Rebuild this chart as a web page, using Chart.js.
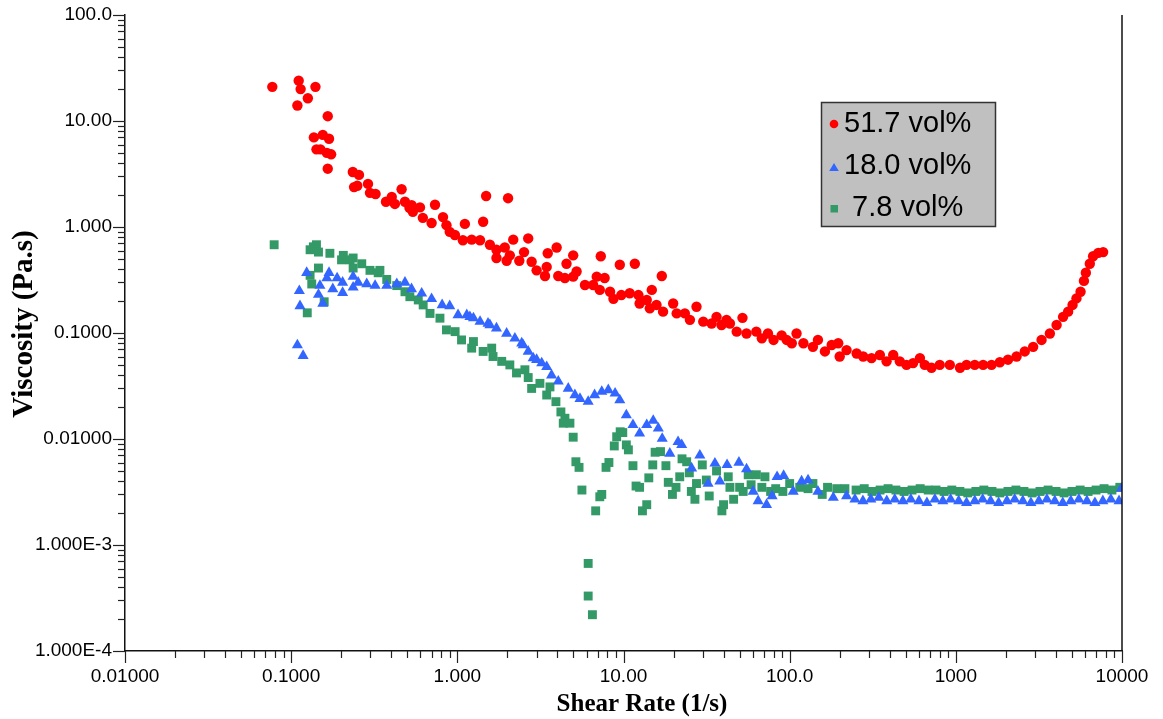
<!DOCTYPE html>
<html><head><meta charset="utf-8">
<script src="https://cdn.jsdelivr.net/npm/chart.js@4.4.1/dist/chart.umd.min.js"></script>
<style>html,body{margin:0;padding:0;background:#fff}#wrap{width:1163px;height:719px}</style>
</head><body><div id="wrap"><canvas id="c" width="1163" height="719"></canvas></div>
<script>
const xTickValues = [0.01, 0.1, 1, 10, 100, 1000, 10000];
const xTickLabels = ['0.01000', '0.1000', '1.000', '10.00', '100.0', '1000', '10000'];
const yTickValues = [0.0001, 0.001, 0.01, 0.1, 1, 10, 100];
const yTickLabels = ['1.000E-4', '1.000E-3', '0.01000', '0.1000', '1.000', '10.00', '100.0'];
const xTitle = 'Shear Rate (1/s)';
const yTitle = 'Viscosity (Pa.s)';
const seriesNames = ['51.7 vol%', '18.0 vol%', ' 7.8 vol%'];

const red517 = [
[0.077,21],[0.109,14],[0.111,24],[0.114,20],[0.126,16.4],[0.137,7.0],[0.140,21],[0.142,5.4],[0.150,5.4],[0.155,7.4],[0.164,5.0],[0.166,11.1],[0.166,3.55],[0.169,6.8],[0.174,4.85],
[0.235,3.3],[0.239,2.38],[0.250,2.45],[0.256,3.1],[0.290,2.55],[0.298,2.1],[0.322,2.05],[0.372,1.73],[0.403,1.92],[0.421,1.65],[0.462,2.27],[0.484,1.73],[0.515,1.52],[0.531,1.61],[0.54,1.39],[0.596,1.53],[0.62,1.22],[0.70,1.09],[0.734,1.62],[0.82,1.24],[0.86,1.04],[0.90,0.90],[0.967,0.84],
[1.08,0.75],[1.11,1.07],[1.22,0.76],[1.37,0.75],[1.43,1.12],[1.49,1.96],[1.57,0.68],[1.72,0.61],[1.72,0.51],[1.93,0.64],[1.98,0.48],[2.02,1.87],[2.07,0.54],[2.17,0.76],[2.36,0.48],[2.52,0.58],[2.67,0.78],[2.80,0.47],[3.0,0.39],[3.37,0.345],[3.45,0.42],[3.5,0.565],[3.96,0.64],[4.05,0.345],[4.44,0.33],[4.54,0.45],[4.98,0.54],[4.98,0.34],[5.22,0.38],[5.86,0.284],[6.57,0.284],[6.9,0.34],[7.2,0.255],[7.3,0.53],[7.7,0.33],[8.3,0.245],[8.7,0.21],[9.5,0.44],[9.7,0.228],
[10.9,0.237],[11.7,0.45],[12.3,0.228],[12.5,0.19],[13.8,0.205],[14.4,0.171],[14.8,0.255],[15.8,0.184],[17.0,0.345],[17.3,0.159],[19.9,0.19],[20.9,0.153],[23.4,0.153],[25.1,0.133],[27.5,0.177],[30.2,0.128],[33.9,0.123],[36.3,0.142],[38.9,0.119],[41.7,0.133],[43.7,0.123],[48,0.103],[52,0.139],[55,0.099],[63,0.103],[68,0.089],[74,0.099],[80,0.086],[89.5,0.095],[96,0.086],
[103,0.080],[110,0.099],[121,0.080],[138,0.074],[148,0.086],[163,0.067],[179,0.077],[196,0.080],[200,0.060],[220,0.069],[253,0.064],[277,0.060],[311,0.058],[349,0.062],[383,0.054],[420,0.062],[460,0.054],[505,0.050],[553,0.052],[608,0.058],[650,0.050],[714,0.047],[800,0.050],[920,0.050],
[1060,0.047],[1160,0.050],[1300,0.050],[1460,0.050],[1640,0.050],[1840,0.053],[2060,0.056],[2320,0.060],[2600,0.067],[2920,0.074],[3280,0.086],[3680,0.099],[4040,0.119],[4420,0.142],[4740,0.159],[5040,0.184],[5320,0.212],[5630,0.245],[5900,0.31],[6060,0.37],[6400,0.45],[6700,0.53],[7200,0.57],[7700,0.58]
];

const blue180 = [
[0.109,0.077],[0.112,0.25],[0.113,0.18],[0.118,0.061],[0.124,0.37],[0.146,0.23],[0.149,0.28],[0.155,0.19],[0.164,0.33],[0.169,0.37],[0.178,0.26],[0.189,0.33],[0.204,0.30],[0.204,0.24],[0.236,0.34],[0.236,0.27],[0.253,0.30],[0.285,0.29],[0.32,0.28],[0.376,0.28],[0.432,0.29],[0.484,0.30],[0.53,0.26],[0.61,0.237],[0.70,0.21],[0.81,0.184],[0.90,0.18],
[1.01,0.148],[1.14,0.148],[1.19,0.142],[1.25,0.138],[1.37,0.128],[1.53,0.123],[1.57,0.119],[1.72,0.111],[1.98,0.099],[2.22,0.089],[2.44,0.080],[2.49,0.077],[2.67,0.067],[2.86,0.058],[3.0,0.056],[3.22,0.052],[3.45,0.048],[3.69,0.040],[4.05,0.035],[4.65,0.030],[5.1,0.026],[5.47,0.024],[6.13,0.0225],[6.7,0.026],[7.4,0.028],[8.1,0.029],[8.9,0.027],[9.5,0.0233],
[10.4,0.0168],[11.4,0.0136],[12.5,0.0113],[13.8,0.0136],[15.1,0.0149],[16.2,0.0126],[17.1,0.0101],[19.0,0.0073],[21.3,0.0094],[22.4,0.0088],[25.7,0.0053],[28.8,0.0070],[32.3,0.0038],[35.5,0.0059],[38,0.0040],[42,0.0057],[49.5,0.0060],[55,0.0052],[60.3,0.0032],[64.6,0.0026],[72.6,0.0024],[78.4,0.0029],[84,0.0044],[92,0.0045],
[105,0.0032],[118,0.0040],[129,0.0041],[148,0.0032],[183,0.0028],[220,0.0029],[247,0.0027],[276,0.0026],[308,0.0027],[344,0.0028],[384,0.0026],[429,0.0027],[480,0.0026],[536,0.0027],[600,0.0026],[670,0.0025],[748,0.0027],[835,0.0026],[930,0.0027],
[1040,0.0026],[1160,0.0025],[1300,0.0026],[1450,0.0027],[1620,0.0026],[1810,0.0025],[2030,0.0026],[2260,0.0027],[2530,0.0026],[2830,0.0025],[3160,0.0026],[3530,0.0027],[3940,0.0026],[4400,0.0025],[4920,0.0026],[5500,0.0027],[6150,0.0026],[6870,0.0025],[7670,0.0026],[8570,0.0027],[9600,0.0026],[9900,0.0034]
];

const green78 = [
[0.079,0.68],[0.125,0.155],[0.130,0.61],[0.130,0.35],[0.133,0.29],[0.136,0.65],[0.142,0.68],[0.146,0.58],[0.146,0.41],[0.158,0.197],[0.171,0.565],[0.201,0.49],[0.206,0.54],[0.226,0.49],[0.236,0.51],[0.236,0.41],[0.266,0.45],[0.298,0.39],[0.334,0.37],[0.342,0.39],[0.376,0.32],[0.432,0.28],[0.484,0.245],[0.518,0.22],[0.582,0.205],[0.623,0.184],[0.685,0.153],[0.786,0.138],[0.86,0.107],[0.97,0.103],
[1.06,0.086],[1.22,0.072],[1.25,0.083],[1.43,0.067],[1.61,0.072],[1.64,0.060],[1.85,0.054],[2.07,0.050],[2.27,0.042],[2.55,0.045],[2.67,0.038],[2.8,0.030],[3.14,0.0335],[3.45,0.026],[3.61,0.031],[3.92,0.0225],[4.2,0.018],[4.34,0.0141],[4.44,0.0157],[4.76,0.0141],[4.98,0.0104],[5.17,0.0061],[5.4,0.0054],[5.62,0.0033],[6.13,0.00067],[6.13,0.00033],[6.5,0.00022],[6.8,0.0021],[7.2,0.00285],[7.4,0.0030],[7.85,0.0054],[8.17,0.0060],[8.8,0.0086],[9.1,0.0105],[9.55,0.0117],[9.9,0.0115],
[10.4,0.0088],[10.7,0.0079],[11.4,0.0056],[11.9,0.0036],[12.5,0.0035],[13.0,0.0021],[13.8,0.0024],[14.2,0.0043],[15.0,0.0057],[15.5,0.0075],[16.7,0.0076],[18.0,0.0056],[18.6,0.0039],[19.7,0.0030],[20.7,0.0035],[21.8,0.0044],[22.5,0.0065],[24.0,0.0061],[24.9,0.0048],[25.6,0.0032],[26.9,0.0027],[27.5,0.0038],[29.8,0.0057],[31.5,0.0041],[32.8,0.0029],[36.3,0.0050],[39.1,0.0021],[40.0,0.0024],[42.7,0.0044],[43.7,0.0035],[46,0.0027],[50,0.0035],[52.5,0.0032],[56.3,0.0046],[58.6,0.0037],[63,0.0046],[68,0.0035],[71,0.0044],[76.8,0.0032],[82.4,0.0034],[91,0.0032],
[100,0.0038],[115,0.0035],[129,0.0034],[138,0.0038],[157,0.0030],[169,0.0035],[192,0.0034],[215,0.0034],[251,0.0033],[281,0.0034],[313,0.0032],[350,0.0033],[391,0.0034],[436,0.0033],[488,0.0032],[545,0.0033],[610,0.0034],[682,0.0033],[760,0.0033],[850,0.0032],[946,0.0033],
[1058,0.0032],[1180,0.0031],[1320,0.0032],[1475,0.0033],[1650,0.0032],[1840,0.0031],[2060,0.0032],[2300,0.0033],[2570,0.0032],[2880,0.0031],[3210,0.0032],[3590,0.0033],[4010,0.0032],[4480,0.0031],[5000,0.0032],[5600,0.0033],[6250,0.0032],[6980,0.0033],[7800,0.0034],[8700,0.0033],[9700,0.0035]
];

const toXY = arr => arr.map(p => ({x: p[0], y: p[1]}));
const labelFor = (vals, labs, v) => {
  const i = vals.findIndex(t => Math.abs(Math.log10(t) - Math.log10(v)) < 1e-6);
  return i >= 0 ? labs[i] : '';
};

Chart.defaults.font.family = '"Liberation Sans", Arial, Helvetica, sans-serif';
Chart.defaults.color = '#000';

const decorPlugin = {
  id: 'decor',
  afterDraw(chart) {
    const ctx = chart.ctx, a = chart.chartArea;
    const xs = chart.scales.x, ys = chart.scales.y;
    ctx.save();
    ctx.strokeStyle = '#222';
    ctx.lineWidth = 1.2;
    for (let k = -4; k <= 2; k++) {
      for (let m = 1; m <= 9; m++) {
        const v = m * Math.pow(10, k);
        if (v > ys.max * 1.0001) continue;
        const py = Math.round(ys.getPixelForValue(v)) + 0.5;
        const len = m === 1 ? 12 : 7;
        ctx.beginPath(); ctx.moveTo(a.left, py); ctx.lineTo(a.left - len, py); ctx.stroke();
      }
    }
    for (let k = -2; k <= 4; k++) {
      for (let m = 1; m <= 9; m++) {
        const v = m * Math.pow(10, k);
        if (v > xs.max * 1.0001) continue;
        const px = Math.round(xs.getPixelForValue(v)) + 0.5;
        const len = m === 1 ? 12 : 7;
        ctx.beginPath(); ctx.moveTo(px, a.bottom); ctx.lineTo(px, a.bottom + len); ctx.stroke();
      }
    }
    ctx.lineWidth = 1.5;
    ctx.strokeStyle = '#111';
    ctx.beginPath(); ctx.moveTo(a.right, a.top); ctx.lineTo(a.right, a.bottom); ctx.stroke();

    ctx.fillStyle = '#000';
    ctx.textAlign = 'center'; ctx.textBaseline = 'middle';
    ctx.font = 'bold 25px "Liberation Serif", "Times New Roman", serif';
    ctx.fillText(xTitle, 642, 705);
    ctx.save();
    ctx.translate(25, 324); ctx.rotate(-Math.PI / 2);
    ctx.font = 'bold 29px "Liberation Serif", "Times New Roman", serif';
    ctx.fillText(yTitle, 0, 0);
    ctx.restore();

    const bx = 821, by = 102, bw = 174, bh = 124;
    ctx.fillStyle = '#c0c0c0';
    ctx.fillRect(bx, by, bw, bh);
    ctx.strokeStyle = '#333'; ctx.lineWidth = 1.5;
    ctx.strokeRect(bx + 0.5, by + 0.5, bw, bh);
    const rows = [123, 165, 207];
    chart.data.datasets.forEach((ds, i) => {
      const cy = rows[i], cx = 834;
      ctx.fillStyle = ds.pointBackgroundColor;
      ctx.beginPath();
      if (ds.pointStyle === 'circle') {
        ctx.arc(cx, cy + 1, 4.3, 0, Math.PI * 2);
      } else if (ds.pointStyle === 'triangle') {
        ctx.moveTo(cx, cy - 2); ctx.lineTo(cx + 4.8, cy + 6); ctx.lineTo(cx - 4.8, cy + 6); ctx.closePath();
      } else {
        ctx.rect(cx - 3.5, cy - 2, 7.5, 7.5);
      }
      ctx.fill();
      ctx.fillStyle = '#000';
      ctx.font = '29px "Liberation Sans", Arial, sans-serif';
      ctx.textAlign = 'left'; ctx.textBaseline = 'middle';
      ctx.fillText(seriesNames[i], 844, cy + 1);
    });
    ctx.restore();
  }
};

new Chart(document.getElementById('c'), {
  type: 'scatter',
  data: {
    datasets: [
      {label: seriesNames[0], data: toXY(red517), pointStyle: 'circle', pointRadius: 5.2, pointBackgroundColor: '#ff0000', pointBorderWidth: 0, pointBorderColor: '#ff0000'},
      {label: seriesNames[1], data: toXY(blue180), pointStyle: 'triangle', pointRadius: 6.4, pointBackgroundColor: '#3366ff', pointBorderWidth: 0, pointBorderColor: '#3366ff'},
      {label: seriesNames[2], data: toXY(green78), pointStyle: 'rect', pointRadius: 6.3, pointBackgroundColor: '#339966', pointBorderWidth: 0, pointBorderColor: '#339966'}
    ]
  },
  options: {
    responsive: false,
    animation: false,
    devicePixelRatio: 1,
    layout: {padding: {top: 15, right: 41, left: 0, bottom: 0}},
    plugins: {legend: {display: false}, tooltip: {enabled: false}},
    events: [],
    scales: {
      x: {
        type: 'logarithmic', min: 0.01, max: 10000,
        afterBuildTicks: s => { s.ticks = xTickValues.map(v => ({value: v})); },
        afterFit: s => { s.height = 68; },
        ticks: {autoSkip: false, maxRotation: 0, minRotation: 0, padding: 14, font: {size: 19}, color: '#000',
          callback: v => labelFor(xTickValues, xTickLabels, v)},
        grid: {display: false, drawTicks: false},
        border: {display: true, color: '#111', width: 1.5}
      },
      y: {
        type: 'logarithmic', min: 0.0001, max: 100,
        afterBuildTicks: s => { s.ticks = yTickValues.map(v => ({value: v})); },
        afterFit: s => { s.width = 125; },
        ticks: {autoSkip: false, padding: 13, font: {size: 19, lineHeight: 0.1}, color: '#000',
          callback: v => labelFor(yTickValues, yTickLabels, v)},
        grid: {display: false, drawTicks: false},
        border: {display: true, color: '#111', width: 1.5}
      }
    }
  },
  plugins: [decorPlugin]
});
</script></body></html>
